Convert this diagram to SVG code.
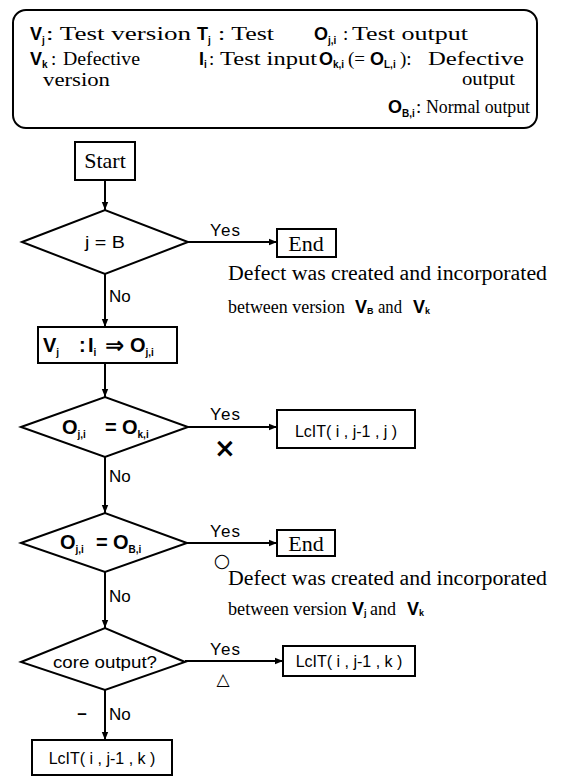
<svg xmlns="http://www.w3.org/2000/svg" width="567" height="780" viewBox="0 0 567 780">
<style>
.bx{fill:#fff;stroke:#000;stroke-width:2}
.ln{fill:none;stroke:#000;stroke-width:2}
.ser{font-family:"Liberation Serif","Times New Roman",serif;font-size:20px;fill:#000}
.s18{font-family:"Liberation Serif","Times New Roman",serif;font-size:18px;fill:#000}
.lg{font-family:"Liberation Serif","Times New Roman",serif;font-size:19px;fill:#000}
.big{font-family:"Liberation Serif","Times New Roman",serif;font-size:22px;fill:#000}
.sb{font-family:"Liberation Sans",Arial,sans-serif;font-weight:bold;font-size:18px;fill:#000}
.sb2{font-family:"Liberation Sans",Arial,sans-serif;font-weight:bold;font-size:20px;fill:#000}
.sub{font-size:10px}
.sn{font-family:"Liberation Sans",Arial,sans-serif;font-size:17px;fill:#000}
.lc{font-family:"Liberation Sans",Arial,sans-serif;font-size:16px;fill:#000}
.sym{font-family:"DejaVu Sans",sans-serif;font-weight:bold;fill:#000}
</style>
<defs>
<marker id="arr" viewBox="0 0 10 10" refX="10" refY="5" markerWidth="8" markerHeight="8" markerUnits="userSpaceOnUse" orient="auto"><path d="M0,1 L10,5 L0,9 z" fill="#000"/></marker>
</defs>
<rect width="567" height="780" fill="#fff"/>

<g id="legend">
<rect class="bx" x="13" y="10" width="524" height="118" rx="13"/>
<text class="sb" x="30" y="40">V<tspan class="sub" dy="4">j</tspan></text>
<text class="lg" x="46" y="40" textLength="145" lengthAdjust="spacingAndGlyphs">: Test version</text>
<text class="sb" x="197" y="40">T<tspan class="sub" dy="4">j</tspan></text>
<text class="lg" x="218" y="40" textLength="56" lengthAdjust="spacingAndGlyphs">: Test</text>
<text class="sb" x="314" y="40">O<tspan class="sub" dy="4">j,i</tspan></text>
<text class="lg" x="343" y="40">:</text>
<text class="lg" x="352" y="40" textLength="116" lengthAdjust="spacingAndGlyphs">Test output</text>
<text class="sb" x="30" y="65">V<tspan class="sub" dy="3">k</tspan></text>
<text class="lg" x="51" y="65">:</text>
<text class="lg" x="63" y="65" textLength="77" lengthAdjust="spacingAndGlyphs">Defective</text>
<text class="sb" x="199" y="65">I<tspan class="sub" dy="3">i</tspan></text>
<text class="lg" x="209" y="65">:</text>
<text class="lg" x="220" y="65" textLength="97" lengthAdjust="spacingAndGlyphs">Test input</text>
<text class="sb" x="319" y="65">O<tspan class="sub" dy="3">k,i</tspan></text>
<text class="lg" x="348" y="65">(=</text>
<text class="sb" x="370" y="65">O<tspan class="sub" dy="3">L,i</tspan></text>
<text class="lg" x="400" y="65">):</text>
<text class="lg" x="428" y="65" textLength="96" lengthAdjust="spacingAndGlyphs">Defective</text>
<text class="lg" x="43" y="86" textLength="67" lengthAdjust="spacingAndGlyphs">version</text>
<text class="lg" x="462" y="85" textLength="53" lengthAdjust="spacingAndGlyphs">output</text>
<text class="sb" x="388" y="113">O<tspan class="sub" dy="4">B,i</tspan></text>
<text class="lg" x="416" y="113">:</text>
<text class="lg" x="426" y="113" textLength="104" lengthAdjust="spacingAndGlyphs">Normal output</text>
</g>

<g id="connectors">
<line class="ln" x1="105" y1="180" x2="105" y2="210" marker-end="url(#arr)"/>
<line class="ln" x1="188" y1="242" x2="277" y2="242" marker-end="url(#arr)"/>
<line class="ln" x1="105" y1="274" x2="105" y2="327" marker-end="url(#arr)"/>
<line class="ln" x1="105" y1="363" x2="105" y2="397" marker-end="url(#arr)"/>
<line class="ln" x1="188" y1="427" x2="277" y2="427" marker-end="url(#arr)"/>
<line class="ln" x1="105" y1="457" x2="105" y2="513" marker-end="url(#arr)"/>
<line class="ln" x1="187" y1="543" x2="277" y2="543" marker-end="url(#arr)"/>
<line class="ln" x1="105" y1="572" x2="105" y2="628" marker-end="url(#arr)"/>
<line class="ln" x1="185" y1="661" x2="283" y2="661" marker-end="url(#arr)"/>
<line class="ln" x1="105" y1="690" x2="105" y2="740" marker-end="url(#arr)"/>
<text class="sn" x="210" y="236" textLength="30" lengthAdjust="spacing">Yes</text>
<text class="sn" x="109" y="302">No</text>
<text class="sn" x="210" y="420" textLength="30" lengthAdjust="spacing">Yes</text>
<text class="sym" x="225" y="457" text-anchor="middle" font-size="26">×</text>
<text class="sn" x="109" y="482">No</text>
<text class="sn" x="210" y="537" textLength="30" lengthAdjust="spacing">Yes</text>
<text class="sym" x="222" y="567" text-anchor="middle" font-size="19">○</text>
<text class="sn" x="109" y="602">No</text>
<text class="sn" x="210" y="655" textLength="30" lengthAdjust="spacing">Yes</text>
<text class="sym" x="223" y="685" text-anchor="middle" font-size="17">△</text>
<text class="sn" x="82" y="719" text-anchor="middle" font-weight="bold">–</text>
<text class="sn" x="109" y="720">No</text>
</g>

<g id="start">
<rect class="bx" x="75" y="142" width="60" height="38"/>
<text class="big" x="105" y="168" text-anchor="middle">Start</text>
</g>

<g id="d1">
<polygon class="bx" points="22,242 105,210 188,242 105,274"/>
<text class="sn" x="105" y="248" text-anchor="middle" textLength="40" lengthAdjust="spacingAndGlyphs">j = B</text>
</g>

<g id="end1">
<rect class="bx" x="277" y="229" width="59" height="28"/>
<text class="big" x="306" y="251" text-anchor="middle">End</text>
</g>
<g id="note1">
<text class="ser" x="228" y="280" textLength="319" lengthAdjust="spacingAndGlyphs">Defect was created and incorporated</text>
<text class="s18" x="228" y="313" textLength="117" lengthAdjust="spacingAndGlyphs">between version</text>
<text class="sb" x="355" y="313" font-size="15">V<tspan font-size="9" dy="1">B</tspan></text>
<text class="s18" x="378" y="313" textLength="24" lengthAdjust="spacingAndGlyphs">and</text>
<text class="sb" x="413" y="313" font-size="15">V<tspan font-size="9" dy="1">k</tspan></text>
</g>

<g id="exec">
<rect class="bx" x="38" y="327" width="139" height="36"/>
<text class="sb2" x="43" y="352">V<tspan class="sub" dy="4">j</tspan></text>
<text class="sb2" x="79" y="352">:</text>
<text class="sb2" x="88" y="352">I<tspan class="sub" dy="4">i</tspan></text>
<text class="sym" x="105" y="353" font-size="23">⇒</text>
<text class="sb2" x="130" y="352">O<tspan class="sub" dy="4">j,i</tspan></text>
</g>

<g id="d2">
<polygon class="bx" points="21,427 105,397 188,427 105,457"/>
<text class="sb2" x="62" y="434">O<tspan class="sub" dy="4">j,i</tspan></text>
<text class="sb2" x="105" y="434">=</text>
<text class="sb2" x="122" y="434">O<tspan class="sub" dy="4">k,i</tspan></text>
</g>

<g id="lcit1">
<rect class="bx" x="277" y="410" width="138" height="38"/>
<text class="lc" x="346" y="437" text-anchor="middle">LcIT( i , j-1 , j )</text>
</g>

<g id="d3">
<polygon class="bx" points="21,543 105,513 187,543 105,572"/>
<text class="sb2" x="60" y="549">O<tspan class="sub" dy="4">j,i</tspan></text>
<text class="sb2" x="96" y="549">=</text>
<text class="sb2" x="113" y="549">O<tspan class="sub" dy="4">B,i</tspan></text>
</g>

<g id="end2">
<rect class="bx" x="277" y="530" width="58" height="26"/>
<text class="big" x="306" y="551" text-anchor="middle">End</text>
</g>
<g id="note2">
<text class="ser" x="228" y="585" textLength="319" lengthAdjust="spacingAndGlyphs">Defect was created and incorporated</text>
<text class="s18" x="228" y="615" textLength="119" lengthAdjust="spacingAndGlyphs">between version</text>
<text class="sb" x="352" y="615" font-size="15">V<tspan font-size="9" dy="1">j</tspan></text>
<text class="s18" x="370" y="615" textLength="26" lengthAdjust="spacingAndGlyphs">and</text>
<text class="sb" x="407" y="615" font-size="15">V<tspan font-size="9" dy="1">k</tspan></text>
</g>

<g id="d4">
<polygon class="bx" points="21,662 105,628 185,662 105,690"/>
<text class="sn" x="105" y="668" text-anchor="middle" textLength="104" lengthAdjust="spacingAndGlyphs">core output?</text>
</g>

<g id="lcit2">
<rect class="bx" x="283" y="646" width="132" height="30"/>
<text class="lc" x="349" y="667" text-anchor="middle">LcIT( i , j-1 , k )</text>
</g>

<g id="lcit3">
<rect class="bx" x="32" y="740" width="140" height="35"/>
<text class="lc" x="102" y="764" text-anchor="middle">LcIT( i , j-1 , k )</text>
</g>
</svg>
